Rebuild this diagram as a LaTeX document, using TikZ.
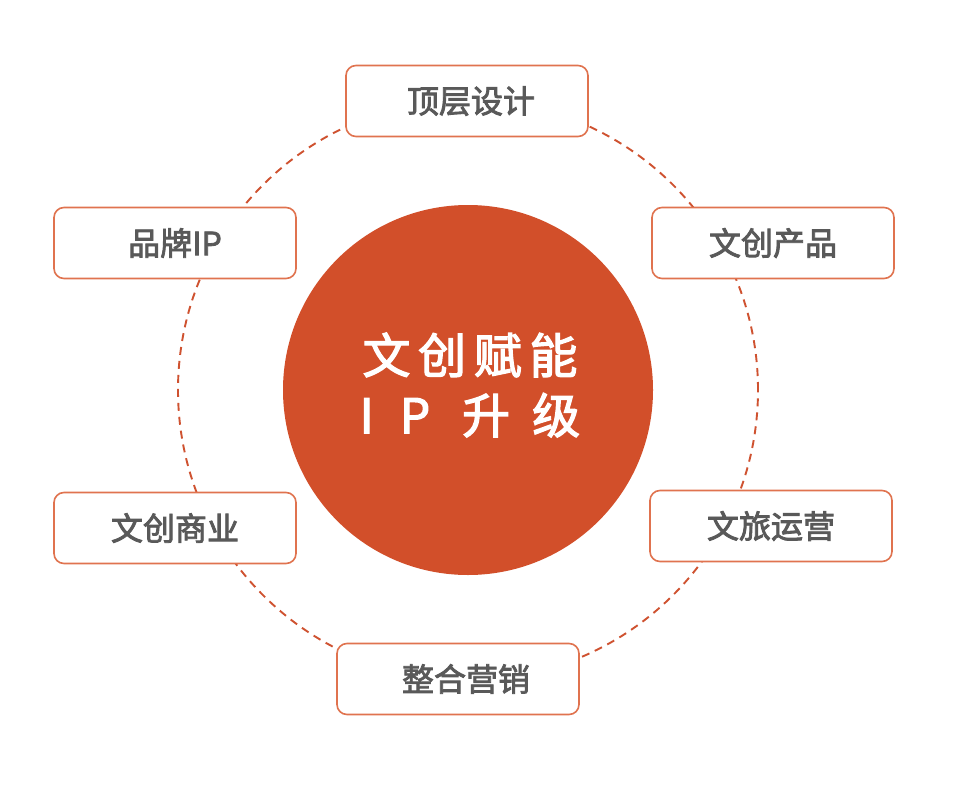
\documentclass[tikz,border=0pt]{standalone}
\usepackage{fontspec}
\setmainfont{Noto Sans CJK SC}
\newfontfamily\heavyish[FakeBold=2.6]{Noto Sans CJK SC}
\usetikzlibrary{positioning}
\definecolor{HubRed}{HTML}{D24F2A}
\definecolor{RingRed}{HTML}{CF5230}
\definecolor{BoxEdge}{HTML}{E0734F}
\definecolor{LabelGray}{HTML}{595959}

\begin{document}
\begin{tikzpicture}[x=1pt,y=-1pt,
  item/.style={draw=BoxEdge,line width=1.6pt,fill=white,rounded corners=10pt,
    minimum width=242pt,minimum height=71pt,text=LabelGray,
    font=\heavyish\fontsize{32}{36}\selectfont},
  hub/.style={circle,fill=HubRed,minimum size=370pt,inner sep=0pt,text=white,
    align=center,font=\heavyish\fontsize{48}{60}\selectfont}]
  \fill[white] (0,0) rectangle (960,789);
  \node[hub] (hub) at (468,390) {};
  \node[text=white,align=center,font=\heavyish\fontsize{48}{60}\selectfont]
    (hubtext) at (470,385) {\addfontfeatures{LetterSpace=16}文创赋能\\
    I\hspace{26pt}P\hspace{32pt}升\hspace{22pt}级};
  \draw[RingRed,line width=1.9pt,dash pattern=on 8pt off 6pt] (hub.center) circle[radius=290pt];
  \node[item] (top) at (467,101) {\hspace{8pt}顶层设计};
  \node[item] (brand) at (175,243) {品牌IP};
  \node[item] (product) at (773,243) {文创产品};
  \node[item] (business) at (175,528) {文创商业};
  \node[item] (tour) at (771,526) {文旅运营};
  \node[item] (market) at (458,679) {\hspace{16pt}整合营销};
\end{tikzpicture}
\end{document}
